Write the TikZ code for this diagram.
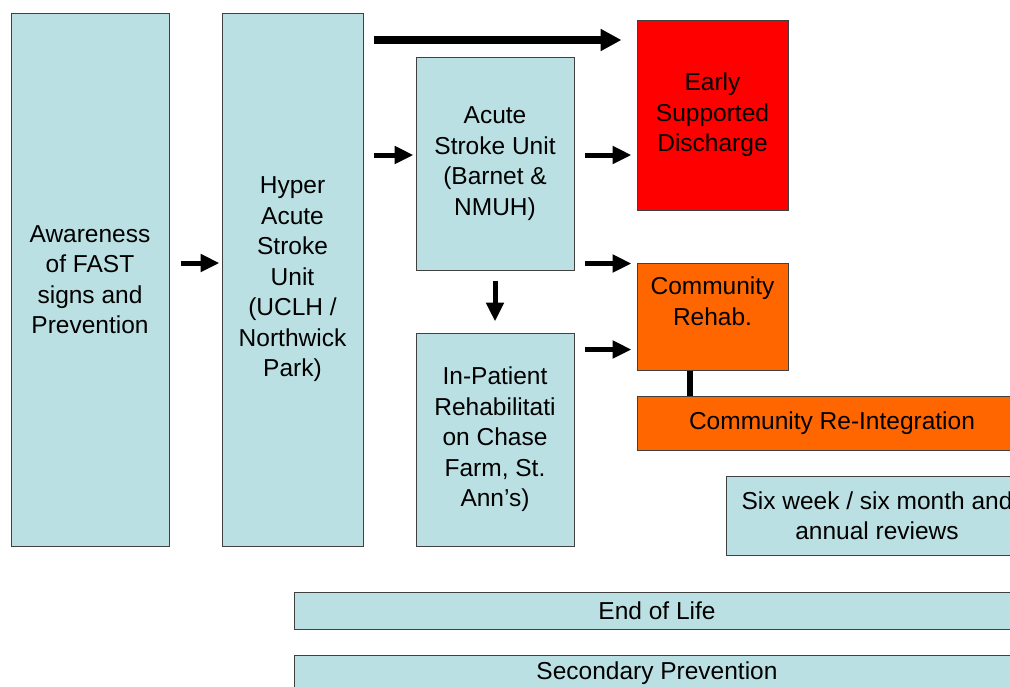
\documentclass[tikz,border=0pt]{standalone}
\usepackage{fontspec}
\setmainfont{Liberation Sans}
\usetikzlibrary{arrows.meta,calc}
\definecolor{paleteal}{HTML}{BBE0E3}
\definecolor{esdred}{HTML}{FF0000}
\definecolor{rehaborange}{HTML}{FF6600}
\tikzset{
    stage/.style = {shape = rectangle, draw = black!75, line width = 1pt, fill = paleteal,
        inner sep = 0pt, align = center, font = \fontsize{24.5}{30.5}\selectfont},
    flow/.style = {line width = 5pt, -{Triangle[length=19pt, width=17pt]}},
    bigflow/.style = {line width = 7.5pt, -{Triangle[length=21pt, width=21pt]}},
    link/.style = {line width = 6pt}
}
\begin{document}
\begin{tikzpicture}[x = 1pt, y = -1pt]
    \useasboundingbox (0,0) rectangle (1010,686);
    \clip (0,0) rectangle (1010,686);
    \node[stage, minimum width = 158pt, minimum height = 533pt] (awareness) at (90,279.5)
        {Awareness\\of FAST\\signs and\\Prevention};
    \node[stage, minimum width = 141pt, minimum height = 533pt] (hyper) at (292.5,279.5)
        {Hyper\\Acute\\Stroke\\Unit\\(UCLH /\\Northwick\\Park)};
    \node[stage, minimum width = 158pt, minimum height = 213pt] (acute) at (495,163.5)
        {Acute\\Stroke Unit\\(Barnet \&\\NMUH)};
    \node[stage, minimum width = 158pt, minimum height = 213pt] (inpatient) at (495,439.5)
        {In-Patient\\Rehabilitati\\on Chase\\Farm, St.\\Ann’s)};
    \node[stage, fill = esdred, minimum width = 151pt, minimum height = 190pt] (esd) at (712.5,115)
        {Early\\Supported\\Discharge};
    \node[stage, fill = rehaborange, minimum width = 151pt, minimum height = 107pt] (crehab) at (712.5,316.5)
        {Community\\Rehab.\\\mbox{}};
    \node[stage, fill = rehaborange, minimum width = 390pt, minimum height = 54pt] (reint) at (832,423)
        {Community Re-Integration};
    \node[stage, minimum width = 302pt, minimum height = 79pt] (reviews) at (877,515.5)
        {Six week / six month and\\annual reviews};
    \node[stage, minimum width = 726pt, minimum height = 37pt] (endlife) at (657,610.5)
        {End of Life};
    \node[stage, minimum width = 726pt, minimum height = 37pt] (secprev) at (657,673.5)
        {Secondary Prevention};
    \draw[flow] ([xshift=11pt, yshift=16.5pt]awareness.east) coordinate (a1)
        -- ([xshift=-2pt]hyper.west |- a1);
    \draw[bigflow] ([xshift=10pt, yshift=75pt]hyper.east |- esd.west) coordinate (a2)
        -- ([xshift=-15pt]esd.west |- a2);
    \draw[flow] ([xshift=10pt, yshift=8.5pt]hyper.east |- acute.west) coordinate (a3)
        -- ([xshift=-2pt]acute.west |- a3);
    \draw[flow] ([xshift=10pt, yshift=8.5pt]acute.east) coordinate (a4)
        -- ([xshift=-5pt]esd.west |- a4);
    \draw[flow] ([xshift=10pt, yshift=7pt]acute.south east) coordinate (a5)
        -- ([xshift=-5pt]crehab.west |- a5);
    \draw[flow] ([yshift=-10pt]acute.south) -- ([yshift=11pt]inpatient.north);
    \draw[flow] ([xshift=10pt, yshift=-17pt]inpatient.north east) coordinate (a6)
        -- ([xshift=-5pt]crehab.west |- a6);
    \draw[link] ([xshift=-22.5pt]crehab.south) -- ([xshift=-22.5pt]crehab.south |- reint.north);
\end{tikzpicture}
\end{document}
